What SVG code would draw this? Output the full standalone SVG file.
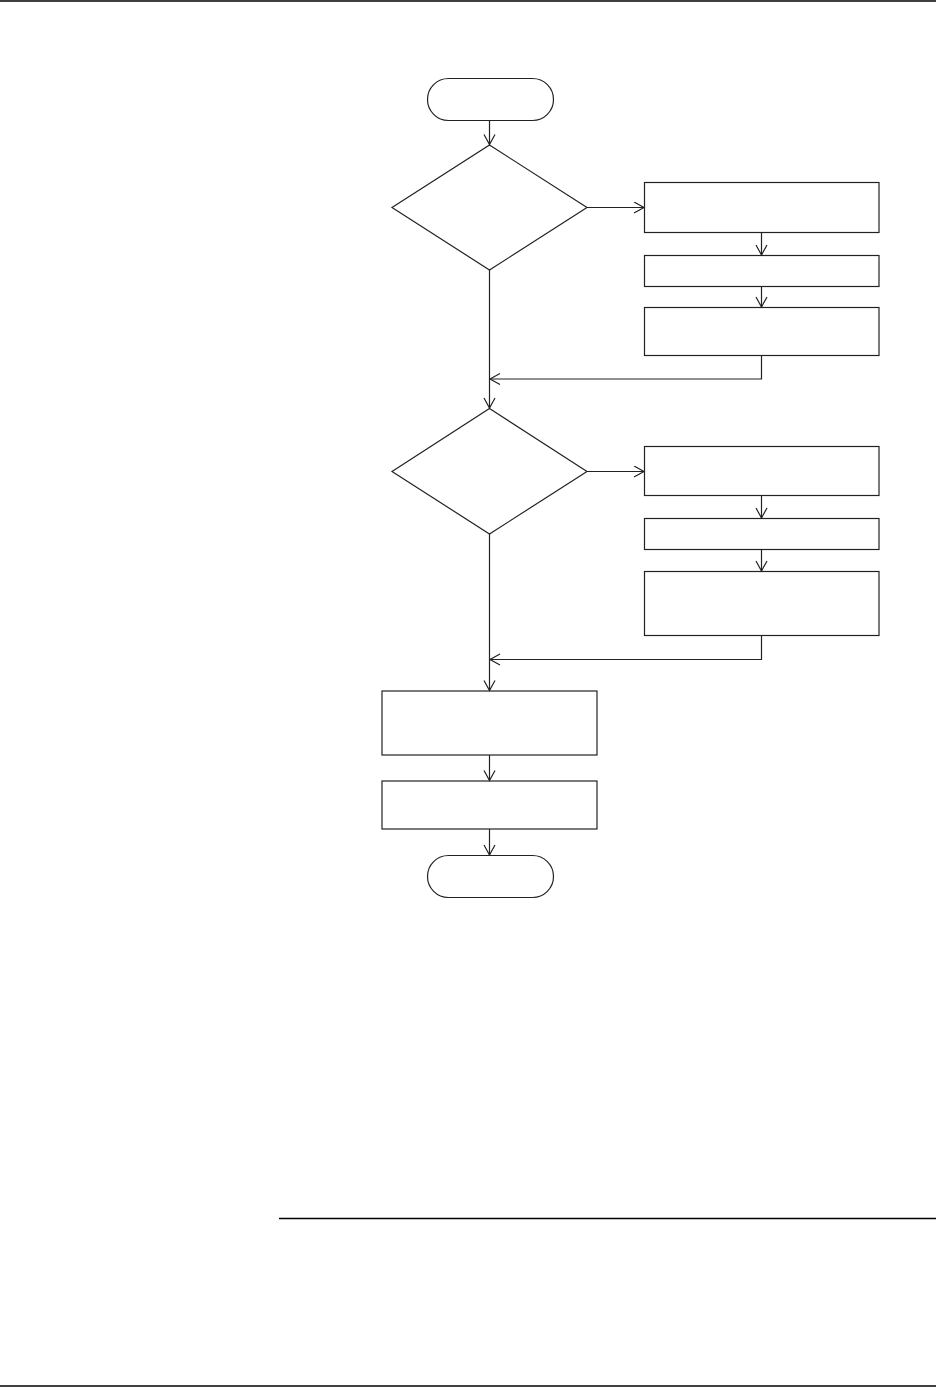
<svg xmlns="http://www.w3.org/2000/svg" width="936" height="1387" viewBox="0 0 936 1387">
<style>
.n{fill:#fff;stroke:#222;stroke-width:1.2}
.c{fill:none;stroke:#222;stroke-width:1.2}
.rule{stroke:#000;stroke-width:1.5}
</style>
<defs>
<marker id="ah" markerUnits="userSpaceOnUse" markerWidth="14" markerHeight="14" refX="11" refY="6" orient="auto">
<path d="M1,0.5 L11,6 L1,11.5" fill="none" stroke="#222" stroke-width="1.2"/>
</marker>
</defs>
<rect width="936" height="1387" fill="#fff"/>
<line class="rule" x1="0" y1="1" x2="936" y2="1"/>
<line class="rule" x1="279" y1="1218.5" x2="936" y2="1218.5"/>
<line class="rule" x1="0" y1="1386" x2="936" y2="1386"/>
<g id="start"><rect class="n" x="427.5" y="78.5" width="126" height="42" rx="21"/></g>
<g id="dec1"><polygon class="n" points="489.5,145 587,207.5 489.5,270 392,207.5"/></g>
<g id="a1"><rect class="n" x="644.5" y="182.5" width="234.5" height="50"/></g>
<g id="a2"><rect class="n" x="644.5" y="255.5" width="234.5" height="31"/></g>
<g id="a3"><rect class="n" x="644.5" y="307.5" width="234.5" height="48"/></g>
<g id="dec2"><polygon class="n" points="489.5,408.5 587,471.5 489.5,534 392,471.5"/></g>
<g id="b1"><rect class="n" x="644.5" y="446.5" width="234.5" height="49"/></g>
<g id="b2"><rect class="n" x="644.5" y="518.5" width="234.5" height="31"/></g>
<g id="b3"><rect class="n" x="644.5" y="571.5" width="234.5" height="64"/></g>
<g id="p1"><rect class="n" x="382" y="691" width="215" height="64"/></g>
<g id="p2"><rect class="n" x="382" y="781" width="215" height="48"/></g>
<g id="end"><rect class="n" x="427.5" y="855.5" width="126" height="42" rx="21"/></g>
<g id="connectors">
<path class="c" d="M489.5,121 V144.5" marker-end="url(#ah)"/>
<path class="c" d="M587,207.5 H644" marker-end="url(#ah)"/>
<path class="c" d="M761.5,232.5 V255" marker-end="url(#ah)"/>
<path class="c" d="M761.5,286.5 V307" marker-end="url(#ah)"/>
<path class="c" d="M761.5,355.5 V379 H490" marker-end="url(#ah)"/>
<path class="c" d="M489.5,270 V408" marker-end="url(#ah)"/>
<path class="c" d="M587,471.5 H644" marker-end="url(#ah)"/>
<path class="c" d="M761.5,495.5 V518" marker-end="url(#ah)"/>
<path class="c" d="M761.5,549.5 V571" marker-end="url(#ah)"/>
<path class="c" d="M761.5,635.5 V659.5 H490" marker-end="url(#ah)"/>
<path class="c" d="M489.5,534 V690.5" marker-end="url(#ah)"/>
<path class="c" d="M489.5,755 V780.5" marker-end="url(#ah)"/>
<path class="c" d="M489.5,829 V855" marker-end="url(#ah)"/>
</g>
</svg>
